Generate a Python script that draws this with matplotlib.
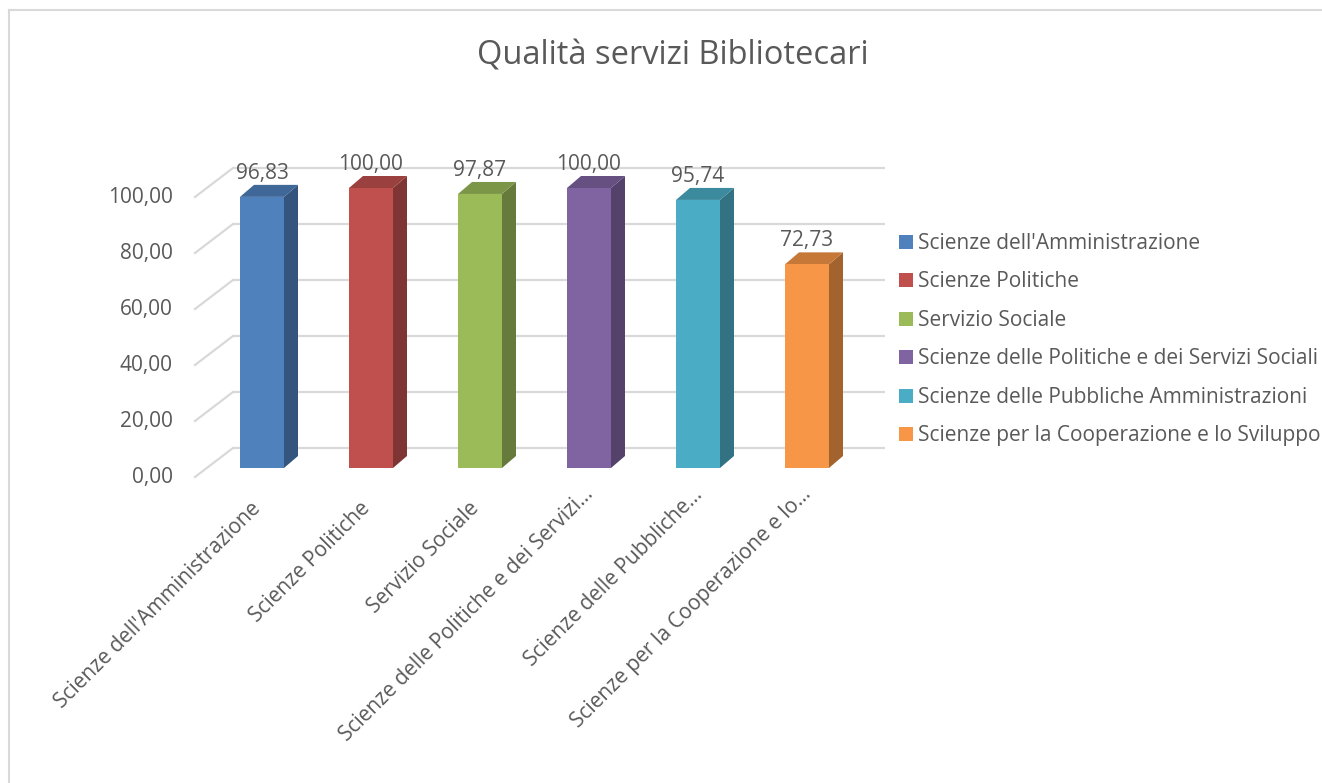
import matplotlib
matplotlib.use("Agg")
import matplotlib.pyplot as plt
from matplotlib.patches import Polygon, Rectangle, Patch
from matplotlib.lines import Line2D
import numpy as np

# ---- data ----
categories = ["Scienze dell'Amministrazione", "Scienze Politiche", "Servizio Sociale",
              "Scienze delle Politiche e dei Servizi Sociali",
              "Scienze delle Pubbliche Amministrazioni",
              "Scienze per la Cooperazione e lo Sviluppo"]
x_tick_labels = ["Scienze dell'Amministrazione", "Scienze Politiche", "Servizio Sociale",
                 "Scienze delle Politiche e dei Servizi…", "Scienze delle Pubbliche…",
                 "Scienze per la Cooperazione e lo…"]
values = [96.83, 100.00, 97.87, 100.00, 95.74, 72.73]
y_ticks = [0, 20, 40, 60, 80, 100]
title = "Qualità servizi Bibliotecari"

colors = ["#4F81BD", "#C0504D", "#9BBB59", "#8064A2", "#4BACC6", "#F79646"]

def shade(c, f):
    r, g, b = matplotlib.colors.to_rgb(c)
    return (r * f, g * f, b * f)

plt.rcParams['font.family'] = ['Open Sans', 'DejaVu Sans']
TXT = "#595959"
GRID = "#D9D9D9"
FS = 15

W, H = 1322, 783
fig = plt.figure(figsize=(W / 100, H / 100), dpi=100)

# axes mapping: category i -> px 262 + 109 i ; value v -> px(from top) 468 - 2.8 v
L, R, T, B = 100, 900, 20, 560
ax = fig.add_axes([L / W, 1 - B / H, (R - L) / W, (B - T) / H])
ax.set_xlim((L - 262) / 109, (R - 262) / 109)
ax.set_ylim((468 - B) / 2.8, (468 - T) / 2.8)
ax.axis('off')

pxx = lambda p: (p - 262) / 109      # pixel x -> data x
pxv = lambda p: p / 2.8              # pixel length -> value units

# back wall / floor geometry
back_dv = pxv(468 - 448)
front_dv = -pxv(477 - 468)
for v in y_ticks:
    ax.plot([pxx(233), pxx(885)], [v + back_dv, v + back_dv], color=GRID, lw=1.6,
            solid_capstyle='butt', zorder=1)
    ax.plot([pxx(195), pxx(233)], [v + front_dv, v + back_dv], color=GRID, lw=1.6,
            zorder=1)
    ax.text(pxx(173), v + front_dv, f"{v:.2f}".replace('.', ','), ha='right', va='center',
            fontsize=FS, color=TXT)

# bars
bw = 44 / 109
ddx = 14 / 109
ddy = pxv(12)
for i, (val, c) in enumerate(zip(values, colors)):
    x0, x1 = i - bw / 2, i + bw / 2
    ax.add_patch(Polygon([(x1, 0), (x1 + ddx, ddy), (x1 + ddx, val + ddy), (x1, val)],
                         closed=True, facecolor=shade(c, 0.66), edgecolor='none', zorder=3))
    ax.add_patch(Polygon([(x0, val), (x1, val), (x1 + ddx, val + ddy), (x0 + ddx, val + ddy)],
                         closed=True, facecolor=shade(c, 0.8), edgecolor='none', zorder=3))
    ax.add_patch(Rectangle((x0, 0), bw, val, facecolor=c, edgecolor='none', zorder=4))
    ax.text(i, val + ddy + pxv(6), f"{val:.2f}".replace('.', ','), ha='center',
            va='baseline', fontsize=FS, color=TXT, zorder=5)
    lab = x_tick_labels[i]
    if lab.endswith("…"):
        ox, oy = 1.5, 491.5
    else:
        ox, oy = -4.2, 505.5
    ax.text(i + ox / 109, pxv(468 - oy), lab, rotation=45,
            rotation_mode='anchor', ha='right', va='center', fontsize=FS, color=TXT)

# legend
handles = [Patch(facecolor=c, edgecolor='none') for c in colors]
leg = ax.legend(handles, categories, loc='upper left',
                bbox_to_anchor=(899 / W, 1 - 233 / H), bbox_transform=fig.transFigure,
                frameon=False, fontsize=FS, handlelength=0.67, handleheight=0.67,
                handletextpad=0.24, labelspacing=0.84, borderpad=0, borderaxespad=0)
for t in leg.get_texts():
    t.set_color(TXT)

# title
fig.text(673 / W, 1 - 64 / H, title, ha='center', va='baseline', fontsize=23.5, color=TXT)

# chart border (left & top visible)
fig.add_artist(Line2D([9 / W, 9 / W], [0, 1 - 10 / H], transform=fig.transFigure,
                      color=GRID, lw=1.5))
fig.add_artist(Line2D([9 / W, 1], [1 - 10 / H, 1 - 10 / H], transform=fig.transFigure,
                      color=GRID, lw=1.5))

fig.savefig("out.png", dpi=100, facecolor='white')
